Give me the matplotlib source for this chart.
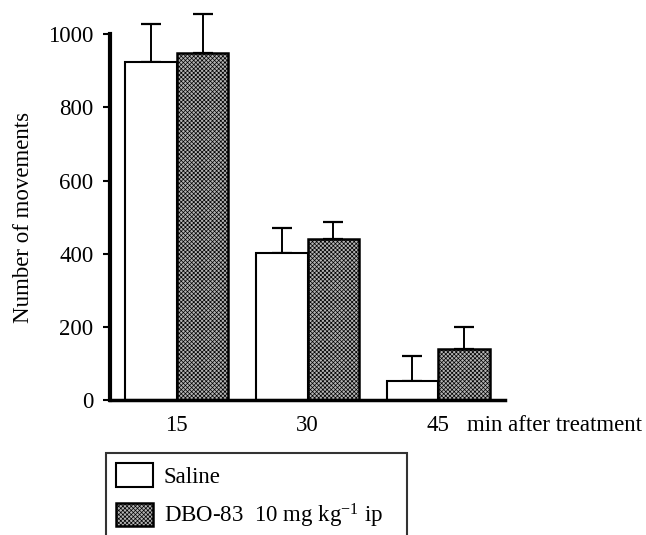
import numpy as np
import matplotlib
matplotlib.use("Agg")
import matplotlib.pyplot as plt

plt.rcParams["font.family"] = ["Liberation Serif", "DejaVu Serif"]
plt.rcParams["mathtext.fontset"] = "custom"
plt.rcParams["mathtext.rm"] = "Liberation Serif"
plt.rcParams["mathtext.it"] = "Liberation Serif:italic"
plt.rcParams["hatch.linewidth"] = 0.5
plt.rcParams["hatch.color"] = "#505050"

# data
times = ["15", "30", "45"]
saline = [924, 403, 52]
saline_err = [103, 68, 67]
dbo = [950, 441, 139]
dbo_err = [106, 47, 61]
series_labels = ["Saline", "DBO-83  10 mg kg$^{-1}$ ip"]

fs = 16.5

fig = plt.figure(figsize=(6.46, 5.35), dpi=100)
ax = fig.add_axes([0.1703, 0.2523, 0.6115, 0.6836])

x = np.arange(len(times))
w = 0.395

b1 = ax.bar(x - w / 2, saline, w, color="white", edgecolor="black", linewidth=1.5,
            label=series_labels[0], zorder=2)
b2 = ax.bar(x + w / 2, dbo, w, color="#b4b4b4", edgecolor="black", linewidth=1.8,
            hatch="xxxxxxxx", label=series_labels[1], zorder=2)

ax.errorbar(x - w / 2, saline, yerr=[np.zeros(3), saline_err], fmt="none",
            ecolor="black", elinewidth=1.4, capsize=7, capthick=1.6, clip_on=False, zorder=1)
ax.errorbar(x + w / 2, dbo, yerr=[np.zeros(3), dbo_err], fmt="none",
            ecolor="black", elinewidth=1.4, capsize=7, capthick=1.6, clip_on=False, zorder=1)

ax.set_xlim(-0.51, 2.51)
ax.set_ylim(0, 1000)
ax.set_yticks([0, 200, 400, 600, 800, 1000])
ax.set_xticks(x)
ax.set_xticklabels(times)
ax.tick_params(axis="x", length=0, pad=11, labelsize=fs)
ax.tick_params(axis="y", length=5, width=1.5, labelsize=fs, pad=7)

for s in ["top", "right"]:
    ax.spines[s].set_visible(False)
ax.spines["left"].set_linewidth(3)
ax.spines["bottom"].set_linewidth(2.5)

ax.set_ylabel("Number of movements", fontsize=fs, labelpad=10)

ax.text(2.22, -0.07, "min after treatment", transform=ax.get_xaxis_transform(),
        fontsize=fs, ha="left", va="center")

leg = fig.legend(handles=[b1, b2], labels=series_labels, loc="upper left",
                 bbox_to_anchor=(0.164, -0.2, 0.466, 0.3533), mode="expand",
                 bbox_transform=fig.transFigure, borderaxespad=0, fontsize=fs,
                 fancybox=False, frameon=True, edgecolor="black",
                 handlelength=1.6, handleheight=1.2, handletextpad=0.48,
                 borderpad=0.45, labelspacing=0.6)
leg.get_frame().set_linewidth(1.5)

fig.savefig("out.png", dpi=100)
